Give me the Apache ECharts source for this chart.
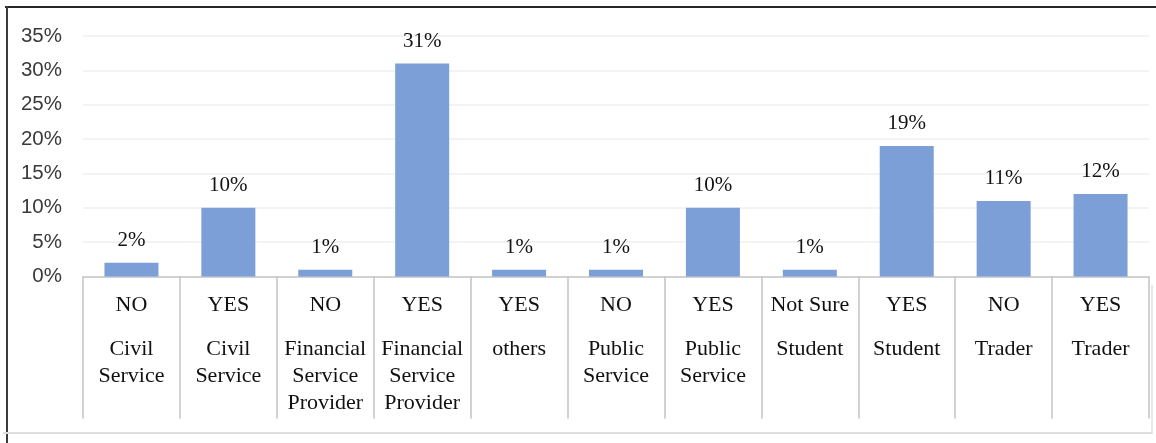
<!DOCTYPE html>
<html>
<head>
<meta charset="utf-8">
<style>
  html, body { margin: 0; padding: 0; background: #ffffff; }
  #chart { width: 1156px; height: 443px; }
</style>
<script src="https://cdn.jsdelivr.net/npm/echarts@6/dist/echarts.min.js"></script>
</head>
<body>
<div id="chart"></div>
<script>
// Survey answer (first row of the category axis)
const responses = ['NO', 'YES', 'NO', 'YES', 'YES', 'NO', 'YES', 'Not Sure', 'YES', 'NO', 'YES'];
// Occupation group (second row of the category axis)
const occupations = [
  'Civil Service', 'Civil Service',
  'Financial Service Provider', 'Financial Service Provider',
  'others',
  'Public Service', 'Public Service',
  'Student', 'Student',
  'Trader', 'Trader'
];
// Share of respondents, percent
const shares = [2, 10, 1, 31, 1, 1, 10, 1, 19, 11, 12];
// Value axis ticks, percent
const yMin = 0, yMax = 35, yStep = 5;

const categories = responses.map((r, i) => r + ' / ' + occupations[i]);

const chart = echarts.init(document.getElementById('chart'), null, { renderer: 'canvas' });

chart.setOption({
  animation: false,
  backgroundColor: '#ffffff',
  grid: { left: 83, right: 7, top: 36, bottom: 166.5, containLabel: false },
  xAxis: {
    type: 'category',
    data: categories,
    boundaryGap: true,
    axisLine: { show: true, lineStyle: { color: '#c6c6c6', width: 1.5 } },
    axisTick: { show: true, interval: 0, length: 142, lineStyle: { color: '#c3c3c3', width: 1.5 } },
    axisLabel: {
      interval: 0,
      margin: 15.5,
      formatter: function (value, index) {
        const lines = ['{a|' + responses[index] + '}', '{s| }'];
        occupations[index].split(' ').forEach(w => lines.push('{b|' + w + '}'));
        return lines.join('\n');
      },
      rich: {
        a: { fontFamily: 'Liberation Serif', fontSize: 22, color: '#111111', lineHeight: 27, align: 'center' },
        s: { fontSize: 4, lineHeight: 17 },
        b: { fontFamily: 'Liberation Serif', fontSize: 22, color: '#111111', lineHeight: 27, align: 'center' }
      }
    },
    splitLine: { show: false }
  },
  yAxis: {
    type: 'value',
    min: yMin,
    max: yMax,
    interval: yStep,
    axisLine: { show: false },
    axisTick: { show: false },
    axisLabel: {
      formatter: '{value}%',
      margin: 21,
      fontFamily: 'Liberation Sans',
      fontSize: 20.5,
      color: '#3a3a3a'
    },
    splitLine: { show: true, lineStyle: { color: '#efefef', width: 1.5 } }
  },
  series: [{
    type: 'bar',
    data: shares,
    barWidth: 54,
    itemStyle: { color: '#7b9fd6' },
    label: {
      show: true,
      position: 'top',
      distance: 12,
      formatter: p => Math.round(p.value) + '%',
      fontFamily: 'Liberation Serif',
      fontSize: 21,
      color: '#111111'
    }
  }],
  graphic: [
    // frame around the chart
    { type: 'line', shape: { x1: 5, y1: 7, x2: 1156, y2: 7 }, style: { stroke: '#262626', lineWidth: 2 }, silent: true },
    { type: 'line', shape: { x1: 7, y1: 6, x2: 7, y2: 443 }, style: { stroke: '#3a3a3a', lineWidth: 2 }, silent: true },
    { type: 'line', shape: { x1: 3, y1: 433, x2: 1152, y2: 433 }, style: { stroke: '#dedede', lineWidth: 2 }, silent: true },
    { type: 'line', shape: { x1: 1152, y1: 285, x2: 1152, y2: 434 }, style: { stroke: '#e2e2e2', lineWidth: 1.5 }, silent: true }
  ]
});
</script>
</body>
</html>
